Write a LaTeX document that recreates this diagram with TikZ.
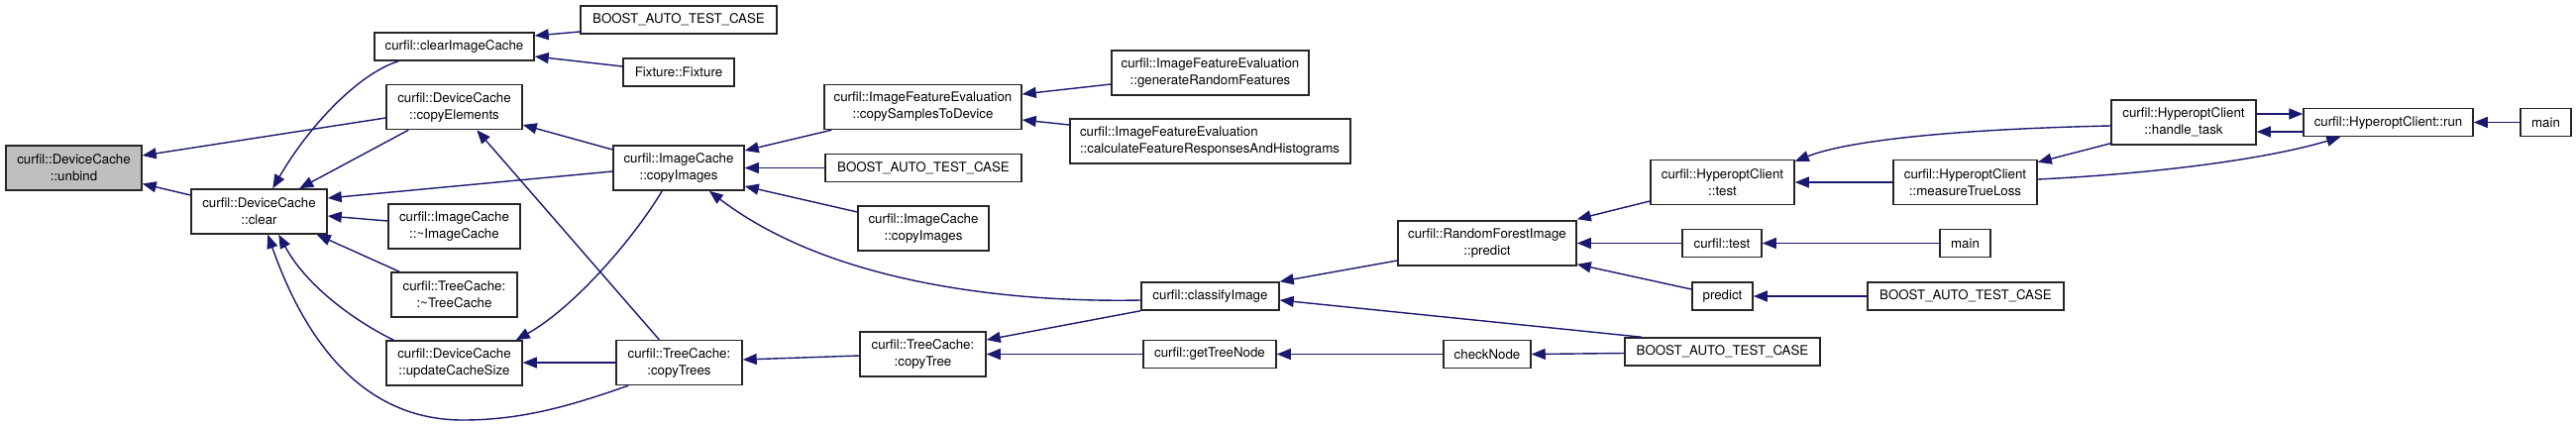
\documentclass[tikz,border=0pt]{standalone}
\usepackage{fontspec}
\setmainfont{TeX Gyre Heros}
\usetikzlibrary{arrows.meta,calc}
\definecolor{edgecol}{HTML}{191970}
\definecolor{rootfill}{HTML}{BFBFBF}
\tikzset{
  box/.style={draw=black!85, fill=white, line width=1.5pt, inner sep=0pt, align=center,
    font=\fontsize{13.3}{17}\selectfont, text=black},
  two/.style={minimum height=45pt},
  one/.style={minimum height=28pt},
  edge/.style={draw=edgecol, line width=1.4pt, -{Triangle[length=14pt,width=11pt,fill=edgecol]}},
}
\begin{document}
\begin{tikzpicture}[x=1pt,y=-1pt]
\useasboundingbox (0,0) rectangle (2600,429);
% nodes
\node[box,two,fill=rootfill,minimum width=137pt] (unbind) at (74.5,169.5) {curfil::DeviceCache\\::unbind};
\node[box,two,minimum width=137pt] (clear) at (261.5,213.5) {curfil::DeviceCache\\::clear};
\node[box,one,minimum width=161pt] (cic) at (458.5,47) {curfil::clearImageCache};
\node[box,one,minimum width=198pt] (boostA) at (685,20) {BOOST\_AUTO\_TEST\_CASE};
\node[box,one,minimum width=112pt] (fixture) at (685,73) {Fixture::Fixture};
\node[box,two,minimum width=137pt] (copyEl) at (458.5,108) {curfil::DeviceCache\\::copyElements};
\node[box,two,minimum width=132pt] (imgA) at (685,169.5) {curfil::ImageCache\\::copyImages};
\node[box,two,minimum width=133pt] (dimg) at (458.5,228.5) {curfil::ImageCache\\::\textasciitilde ImageCache};
\node[box,two,minimum width=127pt] (dtree) at (458.5,297.5) {curfil::TreeCache:\\:\textasciitilde TreeCache};
\node[box,two,minimum width=137pt] (ucs) at (458.5,366.5) {curfil::DeviceCache\\::updateCacheSize};
\node[box,two,minimum width=127pt] (ctrees) at (685.5,366) {curfil::TreeCache:\\:copyTrees};
\node[box,two,minimum width=199pt] (csd) at (931.5,108) {curfil::ImageFeatureEvaluation\\::copySamplesToDevice};
\node[box,one,minimum width=198pt] (boostB) at (932,169.5) {BOOST\_AUTO\_TEST\_CASE};
\node[box,two,minimum width=132pt] (imgB) at (932,230.5) {curfil::ImageCache\\::copyImages};
\node[box,two,minimum width=127pt] (ctree) at (931.5,357.5) {curfil::TreeCache:\\:copyTree};
\node[box,two,minimum width=199pt] (grf) at (1221.5,73.5) {curfil::ImageFeatureEvaluation\\::generateRandomFeatures};
\node[box,two,minimum width=283pt,align=left,text width=263pt,inner xsep=10pt] (cfr) at (1221.5,142.5) {curfil::ImageFeatureEvaluation\\::calculateFeatureResponsesAndHistograms};
\node[box,one,minimum width=139pt] (cls) at (1221.5,299) {curfil::classifyImage};
\node[box,one,minimum width=134pt] (gtn) at (1221,357.5) {curfil::getTreeNode};
\node[box,two,minimum width=180pt] (rfp) at (1501,245.5) {curfil::RandomForestImage\\::predict};
\node[box,one,minimum width=88pt] (chk) at (1501,357.5) {checkNode};
\node[box,two,minimum width=145pt] (hct) at (1738.5,184) {curfil::HyperoptClient\\::test};
\node[box,one,minimum width=80pt] (ctest) at (1738,245.5) {curfil::test};
\node[box,one,minimum width=61pt] (pred) at (1738.5,299) {predict};
\node[box,one,minimum width=197pt] (boostC) at (1738.5,355) {BOOST\_AUTO\_TEST\_CASE};
\node[box,two,minimum width=145pt] (mtl) at (1983.5,184) {curfil::HyperoptClient\\::measureTrueLoss};
\node[box,one,minimum width=51pt] (mainA) at (1983.5,245.5) {main};
\node[box,one,minimum width=198pt] (boostD) at (1984,299) {BOOST\_AUTO\_TEST\_CASE};
\node[box,two,minimum width=146pt] (ht) at (2204,123.5) {curfil::HyperoptClient\\::handle\_task};
\node[box,one,minimum width=171pt] (run) at (2410.5,123.5) {curfil::HyperoptClient::run};
\node[box,one,minimum width=51pt] (mainB) at (2569.5,123.5) {main};
% edges
\draw[edge] ($(copyEl.west)+(0,11)$) -- ($(unbind.east)+(0,-12.5)$);
\draw[edge] ($(clear.west)+(0,-16.5)$) -- ($(unbind.east)+(0,16)$);
\draw[edge] ($(cic.south west)+(25,0)$) .. controls (360,75) and (310,130) .. ($(clear.north west)+(83,0)$);
\draw[edge] ($(copyEl.south west)+(23,0)$) -- ($(clear.north west)+(110,0)$);
\draw[edge] ($(imgA.west)+(0,3.5)$) -- ($(clear.east)+(0,-13.5)$);
\draw[edge] ($(dimg.west)+(0,-5.5)$) -- ($(clear.east)+(0,4.5)$);
\draw[edge] ($(dtree.north west)+(9,0)$) -- ($(clear.south east)+(-11,0)$);
\draw[edge] ($(ucs.north west)+(8,0)$) .. controls (360,325) and (310,290) .. ($(clear.south west)+(89,0)$);
\draw[edge] ($(ctrees.south west)+(13,0)$) .. controls (580,408) and (530,424) .. (467,424) .. controls (370,424) and (310,350) .. ($(clear.south west)+(78,0)$);
\draw[edge] ($(boostA.west)+(0,12)$) -- ($(cic.east)+(0,-11)$);
\draw[edge] ($(fixture.west)+(0,-6)$) -- ($(cic.east)+(0,10)$);
\draw[edge] ($(imgA.west)+(0,-18.5)$) -- ($(copyEl.east)+(0,18)$);
\draw[edge] ($(ctrees.north west)+(44,0)$) -- ($(copyEl.south west)+(92,0)$);
\draw[edge] ($(imgA.south west)+(50,0)$) .. controls (640,240) and (580,310) .. ($(ucs.north east)+(-7,0)$);
\draw[edge] (ctrees.west) -- (ctrees.west -| ucs.east);
\draw[edge] ($(csd.south west)+(8,0)$) -- ($(imgA.east)+(0,-17.5)$);
\draw[edge] (boostB.west) -- (imgA.east);
\draw[edge] ($(imgB.west)+(0,-16.5)$) -- ($(imgA.east)+(0,18.5)$);
\draw[edge] ($(cls.west)+(0,4)$) .. controls (1050,305) and (850,295) .. ($(imgA.south east)+(-36,0)$);
\draw[edge] ($(ctree.west)+(0,1.5)$) -- ($(ctrees.east)+(0,-3)$);
\draw[edge] ($(grf.west)+(0,11.5)$) -- ($(csd.east)+(0,-13)$);
\draw[edge] ($(cfr.west)+(0,-16.5)$) -- ($(csd.east)+(0,13)$);
\draw[edge] (cls.south west) -- ($(ctree.east)+(0,-14.5)$);
\draw[edge] (gtn.west) -- (ctree.east);
\draw[edge] ($(rfp.west)+(0,17.5)$) -- (cls.north east);
\draw[edge] ($(boostC.north west)+(18,0)$) -- ($(cls.east)+(0,4)$);
\draw[edge] (chk.west) -- (gtn.east);
\draw[edge] ($(boostC.west)+(0,1.5)$) -- (chk.east);
\draw[edge] ($(hct.west)+(0,19)$) -- ($(rfp.north east)+(0,-1)$);
\draw[edge] (ctest.west) -- (rfp.east);
\draw[edge] ($(pred.west)+(0,-7)$) -- ($(rfp.south east)+(0,-2)$);
\draw[edge] ($(ht.west)+(0,3.5)$) .. controls (1990,130) and (1870,140) .. ($(hct.north east)+(0,2)$);
\draw[edge] (mtl.west) -- (hct.east);
\draw[edge] (mainA.west) -- (ctest.east);
\draw[edge] (boostD.west) -- (pred.east);
\draw[edge] ($(ht.south west)+(0,-2)$) -- ($(mtl.north east)+(0,3)$);
\draw[edge] ($(mtl.east)+(0,-3)$) .. controls (2180,175) and (2290,160) .. ($(run.south west)+(38,0)$);
\draw[edge] ($(ht.east)+(0,-8.5)$) -- ($(run.west)+(0,-8.5)$);
\draw[edge] ($(run.west)+(0,9.5)$) -- ($(ht.east)+(0,9.5)$);
\draw[edge] (mainB.west) -- (run.east);
\end{tikzpicture}
\end{document}
